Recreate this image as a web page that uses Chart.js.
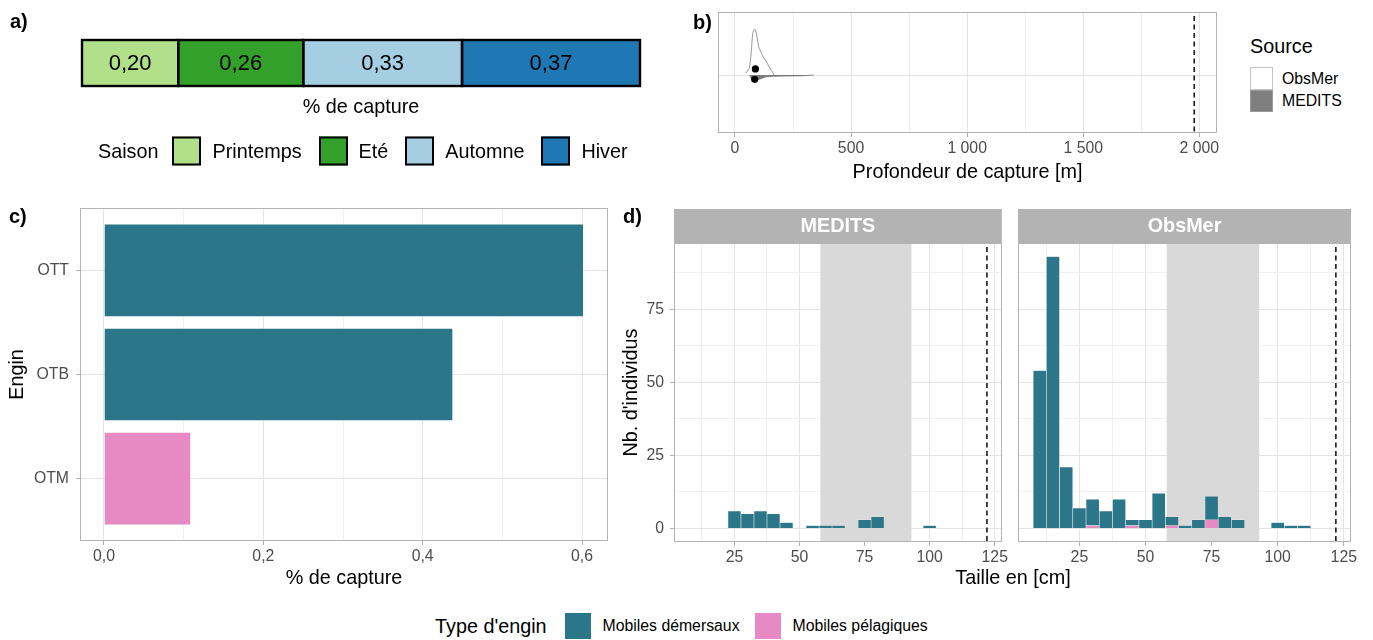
<!DOCTYPE html>
<html lang="fr">
<head>
<meta charset="utf-8">
<title>Captures</title>
<script src="https://cdn.jsdelivr.net/npm/chart.js@4.4.1/dist/chart.umd.min.js"></script>
<style>
  html, body { margin: 0; padding: 0; background: #fff; }
  body { position: relative; width: 1373px; height: 640px; overflow: hidden; font-family: "Liberation Sans", Arial, sans-serif; }
  .box { position: absolute; }
  .txt { position: absolute; white-space: nowrap; line-height: 1; color: #000; transform: translateY(-50%); }
  .lettre { font-weight: bold; font-size: 20px; }
  .leg { position: absolute; display: flex; align-items: center; white-space: nowrap; transform: translateY(-50%); }
  .cle { box-sizing: border-box; flex: none; }
</style>
</head>
<body>
<div class="box" style="left:0;top:0"><canvas id="saison" width="700" height="190"></canvas></div>
<div class="box" style="left:700px;top:0"><canvas id="profondeur" width="540" height="190"></canvas></div>
<div class="box" style="left:0;top:190px"><canvas id="engin" width="620" height="410"></canvas></div>
<div class="box" style="left:620px;top:190px"><canvas id="medits" width="390" height="410"></canvas></div>
<div class="box" style="left:1010px;top:190px"><canvas id="obsmer" width="363" height="410"></canvas></div>

<div class="txt lettre" style="left:10px;top:21px">a)</div>
<div class="txt lettre" style="left:693px;top:22px">b)</div>
<div class="txt lettre" style="left:9px;top:216px">c)</div>
<div class="txt lettre" style="left:623px;top:216px">d)</div>

<div class="txt" style="left:361px;top:107px;font-size:19.8px;transform:translate(-50%,-50%)">% de capture</div>
<div class="leg" id="legSaison" style="left:98px;top:151px;font-size:19.8px"></div>

<div class="txt" style="left:1250px;top:47px;font-size:19.8px">Source</div>
<div class="box" style="left:1250px;top:67px;width:23px;height:23px;box-sizing:border-box;border:1px solid #c4c4c4;background:#fff"></div>
<div class="box" style="left:1250px;top:90px;width:23px;height:22px;box-sizing:border-box;border:1px solid #9a9a9a;background:#7f7f7f"></div>
<div class="txt" style="left:1282px;top:79px;font-size:15.8px">ObsMer</div>
<div class="txt" style="left:1282px;top:101px;font-size:15.8px">MEDITS</div>

<div class="txt" style="left:1013px;top:578px;font-size:19.8px;transform:translate(-50%,-50%)">Taille en [cm]</div>
<div class="leg" id="legType" style="left:435px;top:626px;font-size:15.8px"></div>

<script>
// ---- a) saisons ----
const saisons = ["Printemps", "Eté", "Automne", "Hiver"];
const saisonCapture = [0.20, 0.26, 0.33, 0.37];
const saisonCouleurs = ["#b2df8a", "#33a02c", "#a6cee3", "#1f78b4"];

// ---- b) profondeur ----
const profTicks = [0, 500, 1000, 1500, 2000];
const profLabels = ["0", "500", "1 000", "1 500", "2 000"];
const profMinor = [250, 750, 1250, 1750];
const profSeuil = 1978;
const obsmerProf = [46, 57, 64.5, 71.5, 76, 83, 86, 93.5, 100.5, 107.5, 121.7, 136, 150.5, 162, 169];
const obsmerDens = [0.02, 0.05, 0.1, 0.27, 0.4, 0.45, 0.456, 0.4, 0.3, 0.25, 0.18, 0.13, 0.067, 0.027, 0];
const meditsProf = [64, 70, 80, 90, 100, 115, 130, 150, 180, 230, 290, 340];
const meditsDens = [0, -0.035, -0.05, -0.05, -0.045, -0.035, -0.02, -0.015, -0.012, -0.01, -0.008, 0];
const medianeProf = [88, 85];
const medianeY = [0.06, -0.043];

// ---- c) engins ----
const engins = ["OTM", "OTB", "OTT"];
const enginCapture = [0.1095, 0.4385, 0.6025];
const enginType = ["Mobiles pélagiques", "Mobiles démersaux", "Mobiles démersaux"];
const captureTicks = [0, 0.2, 0.4, 0.6];
const captureLabels = ["0,0", "0,2", "0,4", "0,6"];
const captureMinor = [0.1, 0.3, 0.5];

const types = ["Mobiles démersaux", "Mobiles pélagiques"];
const typeCouleurs = ["#2c7689", "#e78ac3"];

// ---- d) tailles (centres de classes de 5 cm) ----
const tailleBins = [10, 15, 20, 25, 30, 35, 40, 45, 50, 55, 60, 65, 70, 75, 80, 85, 90, 95, 100, 105, 110];
const meditsDem = [0, 0, 0, 6, 5, 6, 5, 2, 0, 1, 1, 1, 0, 3, 4, 0, 0, 0, 1, 0, 0];
const meditsPel = [0, 0, 0, 0, 0, 0, 0, 0, 0, 0, 0, 0, 0, 0, 0, 0, 0, 0, 0, 0, 0];
const obsmerDem = [54, 93, 21, 7, 9, 6, 10, 2, 3, 12, 3, 1, 3, 8, 4, 3, 0, 0, 2, 1, 1];
const obsmerPel = [0, 0, 0, 0, 1, 0, 0, 1, 0, 0, 1, 0, 0, 3, 0, 0, 0, 0, 0, 0, 0];
const tailleTicks = [25, 50, 75, 100, 125];
const tailleMinor = [12.5, 37.5, 62.5, 87.5, 112.5];
const nbTicks = [0, 25, 50, 75];
const nbMinor = [12.5, 37.5, 62.5, 87.5];
const zoneGrise = [58, 93];
const tailleSeuil = 122;

Chart.defaults.font.family = '"Liberation Sans", Arial, sans-serif';
Chart.defaults.animation = false;

const GRIS_TXT = '#4d4d4d';

function grille(mineurs, avecTicks) {
  return {
    offset: false,
    color: c => (c.tick && mineurs.includes(c.tick.value)) ? '#f0f0f0' : '#e4e4e4',
    lineWidth: 1,
    drawTicks: avecTicks,
    tickLength: 4,
    tickColor: c => (c.tick && mineurs.includes(c.tick.value)) ? 'rgba(0,0,0,0)' : '#b3b3b3'
  };
}

function poseTicks(majeurs, mineurs) {
  return s => { s.ticks = majeurs.concat(mineurs).sort((a, b) => a - b).map(v => ({ value: v })); };
}

function etiquette(majeurs, labels) {
  return v => { const i = majeurs.indexOf(v); return i < 0 ? '' : labels[i]; };
}

// cadre du panneau, zone grise, ligne pointillée, bandeau
const cadre = {
  id: 'cadre',
  beforeDatasetsDraw(chart, args, o) {
    if (!o.zone) return;
    const { ctx, chartArea: a, scales: { x } } = chart;
    const x0 = x.getPixelForValue(o.zone[0]), x1 = x.getPixelForValue(o.zone[1]);
    ctx.save();
    ctx.fillStyle = '#d9d9d9';
    ctx.fillRect(x0, a.top, x1 - x0, a.height);
    ctx.restore();
  },
  afterDatasetsDraw(chart, args, o) {
    const { ctx, chartArea: a, scales: { x } } = chart;
    ctx.save();
    if (o.seuil !== undefined) {
      const px = x.getPixelForValue(o.seuil);
      ctx.strokeStyle = '#1a1a1a';
      ctx.lineWidth = 1.6;
      ctx.setLineDash([5, 3.5]);
      ctx.beginPath();
      ctx.moveTo(px, a.top + 4);
      ctx.lineTo(px, a.bottom);
      ctx.stroke();
      ctx.setLineDash([]);
    }
    ctx.strokeStyle = '#b3b3b3';
    ctx.lineWidth = 1;
    ctx.strokeRect(Math.round(a.left) + 0.5, Math.round(a.top) + 0.5, Math.round(a.width) - 1, Math.round(a.height) - 1);
    if (o.bandeau) {
      ctx.fillStyle = '#b3b3b3';
      ctx.fillRect(a.left, a.top - 34, a.width, 34);
      ctx.fillStyle = '#fff';
      ctx.font = 'bold 19.8px "Liberation Sans", Arial, sans-serif';
      ctx.textAlign = 'center';
      ctx.textBaseline = 'middle';
      ctx.fillText(o.bandeau, (a.left + a.right) / 2, a.top - 16);
    }
    ctx.restore();
  }
};

// contours et valeurs des segments du panneau a
const segments = {
  id: 'segments',
  afterDatasetsDraw(chart) {
    const { ctx } = chart;
    ctx.save();
    chart.data.datasets.forEach((ds, i) => {
      const el = chart.getDatasetMeta(i).data[0];
      const l = Math.min(el.base, el.x), w = Math.abs(el.x - el.base);
      ctx.strokeStyle = '#000';
      ctx.lineWidth = 2.4;
      ctx.strokeRect(l, el.y - el.height / 2, w, el.height);
      ctx.fillStyle = '#000';
      ctx.font = '22px "Liberation Sans", Arial, sans-serif';
      ctx.textAlign = 'center';
      ctx.textBaseline = 'middle';
      ctx.fillText(ds.data[0].toFixed(2).replace('.', ','), l + w / 2, el.y + 1);
    });
    ctx.restore();
  }
};

// ---- a) ----
new Chart(document.getElementById('saison'), {
  type: 'bar',
  data: {
    labels: [''],
    datasets: saisons.map((s, i) => ({
      label: s, data: [saisonCapture[i]], backgroundColor: saisonCouleurs[i],
      borderWidth: 0, barPercentage: 1, categoryPercentage: 1
    }))
  },
  options: {
    indexAxis: 'y',
    responsive: false,
    layout: { padding: { left: 82, right: 60, top: 40, bottom: 104 } },
    plugins: { legend: { display: false }, tooltip: { enabled: false } },
    scales: {
      x: { stacked: true, min: 0, max: saisonCapture.reduce((a, b) => a + b, 0), display: false },
      y: { stacked: true, display: false }
    }
  },
  plugins: [segments]
});

const legSaison = document.getElementById('legSaison');
legSaison.innerHTML = '<span style="margin-right:14px">Saison</span>' + saisons.map((s, i) =>
  '<span class="cle" style="width:29px;height:29px;border:2px solid #000;background:' + saisonCouleurs[i] + ';margin-right:11px"></span>' +
  '<span style="margin-right:' + (i < saisons.length - 1 ? 17 : 0) + 'px">' + s + '</span>').join('');

// ---- b) ----
new Chart(document.getElementById('profondeur'), {
  type: 'line',
  data: {
    datasets: [
      { type: 'scatter', label: 'médiane', data: medianeProf.map((p, i) => ({ x: p, y: medianeY[i] })),
        pointRadius: 3.6, backgroundColor: '#000', borderWidth: 0 },
      { label: 'ObsMer', data: obsmerProf.map((p, i) => ({ x: p, y: obsmerDens[i] })),
        borderColor: '#8a8a8a', borderWidth: 0.9, backgroundColor: '#ffffff', fill: 'origin',
        pointRadius: 0, cubicInterpolationMode: 'monotone' },
      { label: 'MEDITS', data: meditsProf.map((p, i) => ({ x: p, y: meditsDens[i] })),
        borderColor: '#5e5e5e', borderWidth: 0.6, backgroundColor: '#7f7f7f', fill: 'origin',
        pointRadius: 0, cubicInterpolationMode: 'monotone' }
    ]
  },
  options: {
    responsive: false,
    layout: { padding: { left: 0, right: 23, top: 12, bottom: 0 } },
    plugins: { legend: { display: false }, tooltip: { enabled: false }, cadre: { seuil: profSeuil } },
    scales: {
      x: {
        type: 'linear', min: -73, max: 2076, offset: false,
        afterBuildTicks: poseTicks(profTicks, profMinor),
        ticks: { callback: etiquette(profTicks, profLabels), autoSkip: false, maxRotation: 0, color: GRIS_TXT, font: { size: 15.8 }, padding: 2 },
        grid: grille(profMinor, true),
        border: { display: false },
        title: { display: true, text: 'Profondeur de capture [m]', color: '#000', font: { size: 19.8 }, padding: { top: 0, bottom: 6 } },
        afterFit: s => { s.height = 57; }
      },
      y: {
        type: 'linear', min: -0.575, max: 0.625,
        afterBuildTicks: s => { s.ticks = [{ value: 0 }]; },
        ticks: { display: false },
        grid: { color: '#e4e4e4', drawTicks: false },
        border: { display: false },
        afterFit: s => { s.width = 18; }
      }
    }
  },
  plugins: [cadre]
});

// ---- c) ----
new Chart(document.getElementById('engin'), {
  type: 'bar',
  data: {
    datasets: [{
      label: 'capture',
      data: engins.map((e, i) => ({ x: enginCapture[i], y: i + 1 })),
      backgroundColor: enginType.map(t => typeCouleurs[types.indexOf(t)]),
      borderColor: 'rgba(255,255,255,0.4)', borderWidth: 1,
      barPercentage: 0.9, categoryPercentage: 1
    }]
  },
  options: {
    indexAxis: 'y',
    responsive: false,
    layout: { padding: { left: 0, right: 12, top: 18, bottom: 0 } },
    plugins: { legend: { display: false }, tooltip: { enabled: false }, cadre: {} },
    scales: {
      x: {
        type: 'linear', min: -0.0301, max: 0.6326, offset: false,
        afterBuildTicks: poseTicks(captureTicks, captureMinor),
        ticks: { callback: etiquette(captureTicks, captureLabels), autoSkip: false, maxRotation: 0, color: GRIS_TXT, font: { size: 15.8 }, padding: 2 },
        grid: grille(captureMinor, true),
        border: { display: false },
        title: { display: true, text: '% de capture', color: '#000', font: { size: 19.8 }, padding: { top: 0, bottom: 10 } },
        afterFit: s => { s.height = 59; }
      },
      y: {
        type: 'linear', min: 0.4, max: 3.6, offset: false,
        afterBuildTicks: s => { s.ticks = engins.map((e, i) => ({ value: i + 1 })); },
        ticks: { callback: v => engins[v - 1], autoSkip: false, color: GRIS_TXT, font: { size: 15.8 }, padding: 7 },
        grid: grille([], true),
        border: { display: false },
        title: { display: true, text: 'Engin', color: '#000', font: { size: 19.8 }, padding: { top: 6, bottom: 0 } },
        afterFit: s => { s.width = 80; }
      }
    }
  },
  plugins: [cadre]
});

// ---- d) ----
function histo(id, dem, pel, nom, axeY, droite) {
  return new Chart(document.getElementById(id), {
    type: 'bar',
    data: {
      datasets: [
        { label: types[1], data: tailleBins.map((b, i) => ({ x: b, y: pel[i] })), backgroundColor: typeCouleurs[1],
          borderColor: 'rgba(255,255,255,0.3)', borderWidth: 0.6, barPercentage: 1, categoryPercentage: 1 },
        { label: types[0], data: tailleBins.map((b, i) => ({ x: b, y: dem[i] })), backgroundColor: typeCouleurs[0],
          borderColor: 'rgba(255,255,255,0.3)', borderWidth: 0.6, barPercentage: 1, categoryPercentage: 1 }
      ]
    },
    options: {
      responsive: false,
      layout: { padding: { left: 0, right: droite, top: 53, bottom: 0 } },
      plugins: { legend: { display: false }, tooltip: { enabled: false },
        cadre: { zone: zoneGrise, seuil: tailleSeuil, bandeau: nom } },
      scales: {
        x: {
          type: 'linear', stacked: true, min: 1.775, max: 127.725, offset: false,
          afterBuildTicks: poseTicks(tailleTicks, tailleMinor),
          ticks: { callback: etiquette(tailleTicks, tailleTicks.map(String)), autoSkip: false, maxRotation: 0, color: GRIS_TXT, font: { size: 15.8 }, padding: 2 },
          grid: grille(tailleMinor, true),
          border: { display: false },
          afterFit: s => { s.height = 58; }
        },
        y: {
          type: 'linear', stacked: true, min: -4.65, max: 97.65,
          afterBuildTicks: poseTicks(nbTicks, nbMinor),
          ticks: { display: axeY, callback: etiquette(nbTicks, nbTicks.map(String)), autoSkip: false, color: GRIS_TXT, font: { size: 15.8 }, padding: 6 },
          grid: grille(nbMinor, axeY),
          border: { display: false },
          title: { display: axeY, text: "Nb. d'individus", color: '#000', font: { size: 19.8 }, padding: { top: 0, bottom: 0 } },
          afterFit: s => { s.width = axeY ? 54 : 8; }
        }
      }
    },
    plugins: [cadre]
  });
}
histo('medits', meditsDem, meditsPel, 'MEDITS', true, 4);
histo('obsmer', obsmerDem, obsmerPel, 'ObsMer', false, 22);

const legType = document.getElementById('legType');
legType.innerHTML = '<span style="font-size:19.8px;margin-right:18px">Type d\'engin</span>' + types.map((t, i) =>
  '<span class="cle" style="width:26px;height:26px;background:' + typeCouleurs[i] + ';margin-right:12px"></span>' +
  '<span style="margin-right:' + (i < types.length - 1 ? 15 : 0) + 'px">' + t + '</span>').join('');
</script>
</body>
</html>
